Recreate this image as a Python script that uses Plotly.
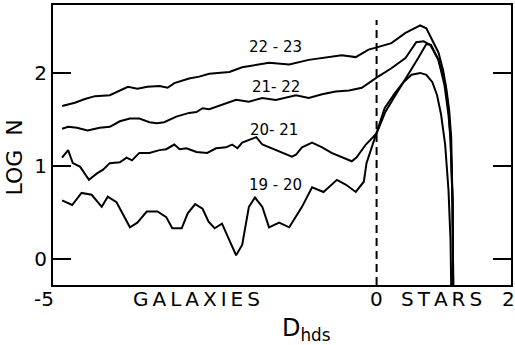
import plotly.graph_objects as go

# ---- data ----
x_22_23 = [-4.68, -4.49, -4.34, -4.19, -3.97, -3.82, -3.70, -3.56, -3.41, -3.23, -3.11, -3.01,
           -2.79, -2.64, -2.49, -2.19, -2.00, -1.60, -1.30, -1.01, -0.71, -0.52, -0.31, -0.12,
           0.03, 0.22, 0.43, 0.65, 0.74, 0.81, 0.92, 0.99, 1.04, 1.08, 1.11, 1.13, 1.14]
y_22_23 = [1.645, 1.68, 1.72, 1.75, 1.76, 1.81, 1.85, 1.83, 1.85, 1.86, 1.84, 1.89,
           1.94, 1.96, 1.99, 2.01, 2.06, 2.11, 2.09, 2.14, 2.17, 2.19, 2.17, 2.25,
           2.28, 2.32, 2.43, 2.51, 2.48, 2.38, 2.22, 2.03, 1.82, 1.60, 1.31, 0.63, -0.28]

x_21_22 = [-4.68, -4.59, -4.46, -4.30, -4.12, -3.97, -3.82, -3.67, -3.53, -3.38, -3.27, -3.16,
           -2.98, -2.79, -2.68, -2.59, -2.49, -2.30, -2.09, -1.90, -1.70, -1.50, -1.20, -1.01,
           -0.81, -0.61, -0.41, -0.22, 0.00, 0.22, 0.43, 0.59, 0.70, 0.80, 0.92, 1.02, 1.07,
           1.10, 1.13, 1.14]
y_21_22 = [1.40, 1.42, 1.41, 1.38, 1.41, 1.42, 1.48, 1.51, 1.51, 1.47, 1.46, 1.47,
           1.53, 1.57, 1.58, 1.62, 1.61, 1.66, 1.71, 1.69, 1.73, 1.71, 1.76, 1.73,
           1.77, 1.80, 1.81, 1.84, 1.95, 2.05, 2.16, 2.33, 2.34, 2.30, 2.14, 1.89, 1.60,
           1.31, 0.63, -0.28]

x_20_21 = [-4.68, -4.59, -4.52, -4.41, -4.28, -4.16, -4.07, -3.97, -3.82, -3.72, -3.64, -3.53,
           -3.38, -3.23, -3.13, -3.01, -2.93, -2.83, -2.68, -2.52, -2.39, -2.24, -2.15, -2.07,
           -2.00, -1.90, -1.79, -1.70, -1.50, -1.26, -1.20, -1.11, -0.96, -0.81, -0.67, -0.46,
           -0.37, -0.30, -0.16, 0.00, 0.13, 0.28, 0.47, 0.62, 0.74, 0.81, 0.92, 1.01, 1.07,
           1.10, 1.13, 1.14]
y_20_21 = [1.09, 1.17, 1.03, 0.99, 0.85, 0.92, 0.96, 1.03, 1.04, 1.09, 1.06, 1.14,
           1.14, 1.17, 1.18, 1.23, 1.18, 1.19, 1.15, 1.14, 1.19, 1.20, 1.23, 1.19,
           1.25, 1.28, 1.31, 1.23, 1.17, 1.10, 1.12, 1.20, 1.25, 1.20, 1.14, 1.08,
           1.05, 1.09, 1.23, 1.35, 1.58, 1.76, 1.98, 2.16, 2.31, 2.30, 2.14, 1.87, 1.55,
           1.28, 0.63, -0.28]

x_19_20 = [-4.68, -4.53, -4.39, -4.24, -4.09, -4.00, -3.87, -3.78, -3.67, -3.56, -3.42, -3.26,
           -3.13, -3.04, -2.90, -2.81, -2.70, -2.59, -2.50, -2.41, -2.30, -2.19, -2.09, -2.00,
           -1.90, -1.81, -1.70, -1.60, -1.45, -1.30, -1.11, -0.96, -0.79, -0.59, -0.46, -0.31,
           -0.19, -0.15, 0.00, 0.12, 0.27, 0.40, 0.52, 0.65, 0.74, 0.83, 0.90, 0.96, 1.02,
           1.07, 1.10, 1.11]
y_19_20 = [0.63, 0.58, 0.71, 0.69, 0.56, 0.67, 0.61, 0.49, 0.34, 0.39, 0.51, 0.51,
           0.45, 0.33, 0.33, 0.49, 0.59, 0.54, 0.40, 0.33, 0.38, 0.20, 0.04, 0.15,
           0.56, 0.66, 0.56, 0.34, 0.39, 0.34, 0.56, 0.77, 0.72, 0.85, 0.80, 0.72,
           0.83, 1.03, 1.35, 1.62, 1.78, 1.90, 1.98, 2.00, 1.98, 1.90, 1.76, 1.55, 1.23,
           0.74, 0.20, -0.28]

series_names = ["22-23", "21-22", "20-21", "19-20"]
label_text = ["22 - 23", "21- 22", "20- 21", "19 - 20"]
label_x = [-1.50, -1.50, -1.52, -1.50]
label_y = [2.28, 1.85, 1.39, 0.80]

y_tick_vals = [0, 1, 2]
# bottom row labels, positioned in paper fraction of the x axis
x_bottom_labels = ["-5", "G\u2009A\u2009L\u2009A\u2009X\u2009I\u2009E\u2009S", "0", "S\u2009T\u2009A\u2009R\u2009S", "2"]
x_bottom_pos = [-0.0196, 0.313, 0.7065, 0.848, 0.9935]

FONT = "DejaVu Sans"

fig = go.Figure()
for xs, ys, nm in zip([x_22_23, x_21_22, x_20_21, x_19_20],
                      [y_22_23, y_21_22, y_20_21, y_19_20], series_names):
    fig.add_trace(go.Scatter(x=xs, y=ys, mode="lines", name=nm,
                             line=dict(color="black", width=2), showlegend=False))

# dashed divider at D = 0
fig.add_shape(type="line", x0=0, x1=0, y0=-0.28, y1=2.57, xref="x", yref="y",
              line=dict(color="black", width=2, dash="8px,5px"))

for t, lx, ly in zip(label_text, label_x, label_y):
    fig.add_annotation(x=lx, y=ly, text=t, showarrow=False, xref="x", yref="y",
                       font=dict(family=FONT, size=15, color="black"))

for t, lx in zip(x_bottom_labels, x_bottom_pos):
    fig.add_annotation(x=lx, y=-0.05, text=t, showarrow=False, xref="paper", yref="paper",
                       xanchor="center", yanchor="middle",
                       font=dict(family=FONT, size=20, color="black"))

fig.add_annotation(x=-1.04, y=-0.16, text="D<sub>hds</sub>", showarrow=False,
                   xref="x", yref="paper", yanchor="middle",
                   font=dict(family=FONT, size=24, color="black"))
fig.add_annotation(x=-0.083, y=0.455, text="LOG  N", textangle=-90, showarrow=False,
                   xref="paper", yref="paper", xanchor="center", yanchor="middle",
                   font=dict(family=FONT, size=22, color="black"))

fig.update_xaxes(range=[-4.815, 2.0], showgrid=False, zeroline=False,
                 showline=True, linecolor="black", linewidth=2, mirror=True,
                 showticklabels=False, ticks="")
fig.update_yaxes(range=[-0.28, 2.73], showgrid=False, zeroline=False,
                 showline=True, linecolor="black", linewidth=2, mirror="ticks",
                 tickvals=y_tick_vals, ticks="inside", ticklen=18, tickwidth=2,
                 tickcolor="black", tickfont=dict(family=FONT, size=20, color="black"))

fig.update_layout(width=515, height=345, margin=dict(l=53, r=2, t=5, b=60),
                  paper_bgcolor="white", plot_bgcolor="white")

fig.write_html("out.html")
